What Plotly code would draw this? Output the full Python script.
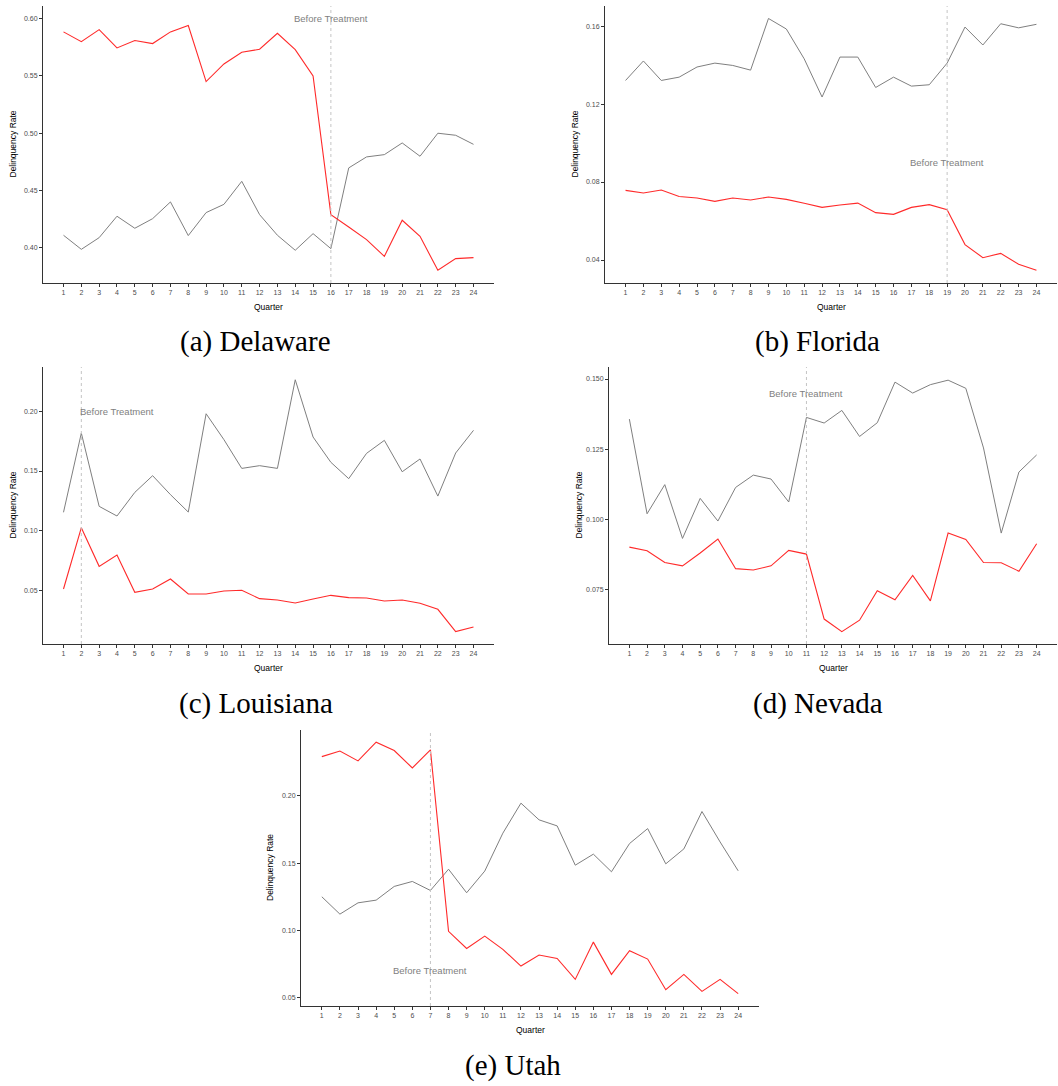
import plotly.graph_objects as go

quarters = list(range(1, 25))

states = ["Delaware", "Florida", "Louisiana", "Nevada", "Utah"]
letters = ["a", "b", "c", "d", "e"]

delaware_red = [0.5884, 0.5799, 0.5904, 0.5744, 0.5808, 0.5782, 0.5884, 0.5939, 0.5450, 0.5604,
                0.5706, 0.5732, 0.5872, 0.5729, 0.5499, 0.4288, 0.4180, 0.4070, 0.3924, 0.4239,
                0.4099, 0.3802, 0.3904, 0.3913]
delaware_gray = [0.4108, 0.3985, 0.4087, 0.4274, 0.4169, 0.4253, 0.4399, 0.4105, 0.4306, 0.4378,
                 0.4579, 0.4288, 0.4108, 0.3977, 0.4122, 0.3991, 0.4696, 0.4792, 0.4812, 0.4914,
                 0.4798, 0.4999, 0.4981, 0.4902]

florida_red = [0.0757, 0.0744, 0.0759, 0.0726, 0.0718, 0.0701, 0.0718, 0.0708, 0.0723, 0.0711,
               0.0691, 0.0670, 0.0682, 0.0692, 0.0643, 0.0634, 0.0670, 0.0684, 0.0658, 0.0479,
               0.0412, 0.0434, 0.0378, 0.0347]
florida_gray = [0.1321, 0.1421, 0.1321, 0.1338, 0.1390, 0.1410, 0.1398, 0.1374, 0.1639, 0.1585,
                0.1432, 0.1236, 0.1441, 0.1441, 0.1285, 0.1338, 0.1292, 0.1299, 0.1410, 0.1595,
                0.1503, 0.1612, 0.1591, 0.1609]

louisiana_red = [0.0511, 0.1025, 0.0701, 0.0796, 0.0483, 0.0511, 0.0595, 0.0469, 0.0469, 0.0494,
                 0.0500, 0.0430, 0.0419, 0.0394, 0.0427, 0.0458, 0.0439, 0.0436, 0.0411, 0.0419,
                 0.0391, 0.0341, 0.0154, 0.0193]
louisiana_gray = [0.1154, 0.1818, 0.1204, 0.1123, 0.1321, 0.1461, 0.1302, 0.1156, 0.1980, 0.1763,
                  0.1522, 0.1545, 0.1522, 0.2265, 0.1785, 0.1573, 0.1436, 0.1648, 0.1757, 0.1494,
                  0.1601, 0.1290, 0.1651, 0.1841]

nevada_red = [0.0900, 0.0887, 0.0845, 0.0833, 0.0879, 0.0929, 0.0823, 0.0818, 0.0833, 0.0888,
              0.0875, 0.0643, 0.0598, 0.0639, 0.0744, 0.0712, 0.0799, 0.0708, 0.0950, 0.0927,
              0.0845, 0.0844, 0.0814, 0.0912]
nevada_gray = [0.1357, 0.1019, 0.1123, 0.0931, 0.1074, 0.0993, 0.1113, 0.1157, 0.1143, 0.1061,
               0.1363, 0.1343, 0.1388, 0.1295, 0.1344, 0.1489, 0.1450, 0.1480, 0.1496, 0.1467,
               0.1254, 0.0950, 0.1168, 0.1229]

utah_red = [0.2292, 0.2334, 0.2260, 0.2399, 0.2337, 0.2208, 0.2342, 0.0993, 0.0866, 0.0958,
            0.0859, 0.0735, 0.0817, 0.0792, 0.0636, 0.0913, 0.0673, 0.0849, 0.0787, 0.0559,
            0.0673, 0.0547, 0.0636, 0.0530]
utah_gray = [0.1250, 0.1121, 0.1205, 0.1225, 0.1327, 0.1364, 0.1297, 0.1455, 0.1280, 0.1441,
             0.1723, 0.1946, 0.1822, 0.1777, 0.1485, 0.1567, 0.1436, 0.1646, 0.1757, 0.1495,
             0.1606, 0.1884, 0.1658, 0.1443]

red_series = [delaware_red, florida_red, louisiana_red, nevada_red, utah_red]
gray_series = [delaware_gray, florida_gray, louisiana_gray, nevada_gray, utah_gray]

treatment_quarter = [16, 19, 2, 11, 7]
label_x = [16, 19, 4, 11, 7]
label_y = [0.60, 0.09, 0.20, 0.145, 0.07]

y_tickvals = [[0.40, 0.45, 0.50, 0.55, 0.60],
              [0.04, 0.08, 0.12, 0.16],
              [0.05, 0.10, 0.15, 0.20],
              [0.075, 0.100, 0.125, 0.150],
              [0.05, 0.10, 0.15, 0.20]]
y_tickfmt = [".2f", ".2f", ".2f", ".3f", ".2f"]
y_ranges = [[0.3691, 0.6110], [0.0282, 0.1703], [0.0050, 0.2372], [0.0554, 0.1543], [0.0438, 0.2490]]

W, H = 1058, 1086
# pixel boxes: left, right, top, bottom
boxes = [(43, 494, 6, 283), (605, 1057, 6, 283), (43, 494, 367, 644), (609, 1057, 367, 644),
         (301, 759, 730, 1006)]
caption_pos = [(255, 342), (817, 342), (256, 703), (818, 703), (513, 1065)]

fig = go.Figure()
annotations = []
shapes = []
for i in range(5):
    n = "" if i == 0 else str(i + 1)
    xa, ya = "x" + n, "y" + n
    l, r, t, b = boxes[i]
    fig.add_trace(go.Scatter(x=quarters, y=gray_series[i], mode="lines", xaxis=xa, yaxis=ya,
                             line=dict(color="#7f7f7f", width=1), showlegend=False))
    fig.add_trace(go.Scatter(x=quarters, y=red_series[i], mode="lines", xaxis=xa, yaxis=ya,
                             line=dict(color="#ff2a2a", width=1.1), showlegend=False))
    axis_common = dict(showgrid=False, zeroline=False, showline=True, linecolor="#333333",
                       linewidth=1, ticks="outside", ticklen=3, tickcolor="#333333",
                       tickfont=dict(family="Liberation Sans, Arial", size=7, color="#4d4d4d"))
    fig.layout["xaxis" + n] = dict(domain=[l / W, r / W], anchor=ya, range=[-0.15, 25.15],
                                   tickvals=quarters, ticktext=[str(q) for q in quarters],
                                   **axis_common)
    fig.layout["yaxis" + n] = dict(domain=[1 - b / H, 1 - t / H], anchor=xa, range=y_ranges[i],
                                   tickvals=y_tickvals[i], tickformat=y_tickfmt[i], **axis_common)
    shapes.append(dict(type="line", xref=xa, yref=ya + " domain", x0=treatment_quarter[i],
                       x1=treatment_quarter[i], y0=0, y1=1,
                       line=dict(color="#c4c4c4", width=1, dash="3px,3px")))
    annotations.append(dict(x=label_x[i], y=label_y[i], xref=xa, yref=ya, text="Before Treatment",
                            showarrow=False, xanchor="center", yanchor="middle",
                            font=dict(family="Liberation Sans, Arial", size=9.5, color="#808080")))
    annotations.append(dict(x=(l - 31) / W, y=1 - ((t + b) / 2) / H, xref="paper", yref="paper",
                            text="Delinquency Rate", textangle=-90, showarrow=False,
                            xanchor="center", yanchor="middle",
                            font=dict(family="Liberation Sans, Arial", size=8.5, color="#000000")))
    annotations.append(dict(x=((l + r) / 2) / W, y=1 - (b + 24) / H, xref="paper", yref="paper",
                            text="Quarter", showarrow=False, xanchor="center", yanchor="middle",
                            font=dict(family="Liberation Sans, Arial", size=8.5, color="#000000")))
    cx, cy = caption_pos[i]
    annotations.append(dict(x=cx / W, y=1 - cy / H, xref="paper", yref="paper",
                            text=f"({letters[i]}) {states[i]}", showarrow=False,
                            xanchor="center", yanchor="middle",
                            font=dict(family="Liberation Serif", size=29, color="#000000")))

fig.update_layout(width=W, height=H, margin=dict(l=0, r=0, t=0, b=0),
                  plot_bgcolor="white", paper_bgcolor="white",
                  annotations=annotations, shapes=shapes)

fig.write_html("out.html")
